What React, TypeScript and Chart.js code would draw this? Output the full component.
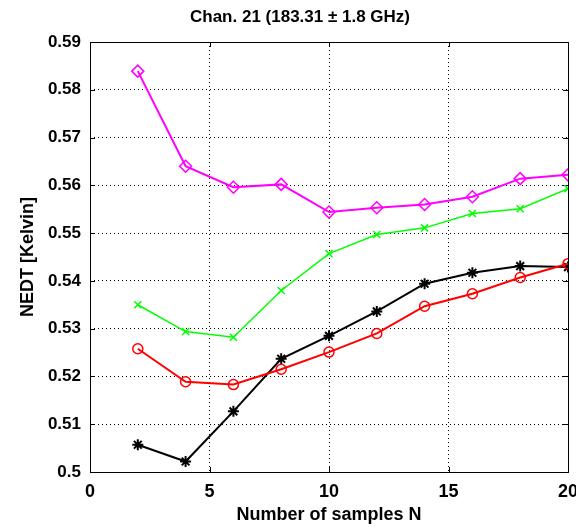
import React, { useEffect, useRef } from "react";
import { Chart, registerables } from "chart.js";

Chart.register(...registerables);

const titleText = "Chan. 21 (183.31 \u00B1 1.8 GHz)";
const xTitle = "Number of samples N";
const yTitle = "NEDT [Kelvin]";

const samplesN = [2, 4, 6, 8, 10, 12, 14, 16, 18, 20];
const magentaSeries = [0.5839, 0.564, 0.5596, 0.5602, 0.5544, 0.5553, 0.556, 0.5576, 0.5614, 0.5622];
const greenSeries = [0.535, 0.5294, 0.5282, 0.538, 0.5457, 0.5497, 0.5511, 0.5541, 0.5551, 0.5593];
const redSeries = [0.5258, 0.5189, 0.5183, 0.5215, 0.5251, 0.529, 0.5347, 0.5373, 0.5407, 0.5436];
const blackSeries = [0.5057, 0.5022, 0.5127, 0.5237, 0.5285, 0.5336, 0.5394, 0.5417, 0.5431, 0.5429];

const xTicks = [0, 5, 10, 15, 20];
const yTicks = [0.5, 0.51, 0.52, 0.53, 0.54, 0.55, 0.56, 0.57, 0.58, 0.59];
const yTickLabels = ["0.5", "0.51", "0.52", "0.53", "0.54", "0.55", "0.56", "0.57", "0.58", "0.59"];

const FONT = '"Liberation Sans", Arial, Helvetica, sans-serif';

const toPoints = (ys: number[]) => samplesN.map((x, i) => ({ x, y: ys[i] }));

const framePlugin = {
  id: "matlabFrame",
  beforeDatasetsDraw(chart: any) {
    const { ctx, chartArea: a, scales } = chart;
    ctx.save();
    ctx.strokeStyle = "#000";
    ctx.lineWidth = 1;
    ctx.setLineDash([]);
    ctx.strokeRect(Math.round(a.left) + 0.5, Math.round(a.top) + 0.5, Math.round(a.right - a.left), Math.round(a.bottom - a.top));
    const L = 5;
    ctx.beginPath();
    for (const v of xTicks) {
      const px = Math.round(scales.x.getPixelForValue(v)) + 0.5;
      ctx.moveTo(px, a.bottom);
      ctx.lineTo(px, a.bottom - L);
      ctx.moveTo(px, a.top);
      ctx.lineTo(px, a.top + L);
    }
    for (const v of yTicks) {
      const py = Math.round(scales.y.getPixelForValue(v)) + 0.5;
      ctx.moveTo(a.left, py);
      ctx.lineTo(a.left + L, py);
      ctx.moveTo(a.right, py);
      ctx.lineTo(a.right - L, py);
    }
    ctx.stroke();
    ctx.restore();
  },
  afterDraw(chart: any) {
    const { ctx } = chart;
    ctx.save();
    ctx.font = `bold 17px ${FONT}`;
    ctx.fillStyle = "#000";
    ctx.textAlign = "center";
    ctx.textBaseline = "middle";
    ctx.fillText(titleText, 300, 17);
    ctx.restore();
  },
};

export default function App() {
  const ref = useRef<HTMLCanvasElement | null>(null);

  useEffect(() => {
    document.body.style.margin = "0";
    const canvas = ref.current;
    if (!canvas) return;
    const grid = {
      color: "#000",
      lineWidth: 1,
      drawTicks: false,
      drawOnChartArea: true,
    };
    const chart = new Chart(canvas, {
      type: "line",
      data: {
        datasets: [
          {
            data: toPoints(magentaSeries),
            borderColor: "#ff00ff",
            backgroundColor: "transparent",
            borderWidth: 2,
            pointStyle: "rectRot",
            pointRadius: 6,
            pointBorderWidth: 1.5,
            pointBorderColor: "#ff00ff",
            pointBackgroundColor: "transparent",
          },
          {
            data: toPoints(greenSeries),
            borderColor: "#00ff00",
            backgroundColor: "transparent",
            borderWidth: 1.5,
            pointStyle: "crossRot",
            pointRadius: 5,
            pointBorderWidth: 1.5,
            pointBorderColor: "#00ff00",
          },
          {
            data: toPoints(redSeries),
            borderColor: "#ff0000",
            backgroundColor: "transparent",
            borderWidth: 2,
            pointStyle: "circle",
            pointRadius: 5,
            pointBorderWidth: 1.5,
            pointBorderColor: "#ff0000",
            pointBackgroundColor: "transparent",
          },
          {
            data: toPoints(blackSeries),
            borderColor: "#000000",
            backgroundColor: "transparent",
            borderWidth: 2,
            pointStyle: "star",
            pointRadius: 5.5,
            pointBorderWidth: 2,
            pointBorderColor: "#000000",
          },
        ],
      },
      options: {
        responsive: false,
        animation: false,
        devicePixelRatio: 1,
        layout: { padding: { top: 42, right: 8, left: 0, bottom: 0 } },
        plugins: {
          legend: { display: false },
          tooltip: { enabled: false },
          title: { display: false },
        },
        elements: { line: { tension: 0 } },
        scales: {
          x: {
            type: "linear",
            min: 0,
            max: 20,
            afterBuildTicks: (s: any) => {
              s.ticks = xTicks.map((v) => ({ value: v }));
            },
            afterFit: (s: any) => {
              s.height = 56;
              s.paddingLeft = 0;
              s.paddingRight = 0;
            },
            grid,
            border: { display: false, dash: [1, 3] },
            ticks: {
              color: "#000",
              padding: 9,
              maxRotation: 0,
              font: { family: FONT, size: 18, weight: "bold" },
              callback: (v: any) => String(v),
            },
            title: {
              display: true,
              text: xTitle,
              color: "#000",
              font: { family: FONT, size: 18, weight: "bold" },
              padding: { top: 0, bottom: 2 },
            },
          },
          y: {
            type: "linear",
            min: 0.5,
            max: 0.59,
            afterBuildTicks: (s: any) => {
              s.ticks = yTicks.map((v) => ({ value: v }));
            },
            afterFit: (s: any) => {
              s.width = 90;
              s.paddingTop = 0;
              s.paddingBottom = 0;
            },
            grid,
            border: { display: false, dash: [1, 3] },
            ticks: {
              color: "#000",
              padding: 9,
              font: { family: FONT, size: 17, weight: "bold" },
              callback: (_v: any, i: number) => yTickLabels[i],
            },
            title: {
              display: true,
              text: yTitle,
              color: "#000",
              font: { family: FONT, size: 18, weight: "bold" },
              padding: { top: 17, bottom: 0 },
            },
          },
        },
      },
      plugins: [framePlugin],
    } as any);
    return () => chart.destroy();
  }, []);

  return (
    <div style={{ position: "absolute", left: 0, top: 0, width: 576, height: 528 }}>
      <canvas ref={ref} width={576} height={528} />
    </div>
  );
}
